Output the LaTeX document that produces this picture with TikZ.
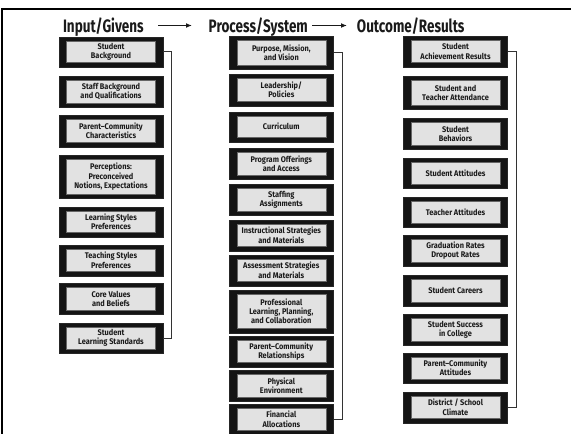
\documentclass[tikz,border=0pt]{standalone}
\usepackage{fontspec}
\newfontfamily\hdfont{Fira Sans}[FakeStretch=0.75]
\newfontfamily\bxfont{Fira Sans}[FakeStretch=0.9]
\usetikzlibrary{arrows.meta}
\definecolor{ink}{HTML}{1A1A1A}
\definecolor{boxfill}{HTML}{E2E2E2}
\tikzset{
  outerbox/.style={draw=black!85, line width=0.4pt, fill=black!92, inner sep=0pt, minimum width=104pt},
  innerbox/.style={draw=black!60, line width=0.3pt, fill=boxfill, inner sep=0pt, minimum width=89pt,
    align=center, text=ink, font=\bxfont\bfseries\fontsize{8.2}{9.3}\selectfont},
  header/.style={font=\hdfont\bfseries\fontsize{18}{20}\selectfont, text=ink, anchor=base, inner sep=0pt},
  hdarrow/.style={draw=ink, line width=1.2pt, -{Latex[length=6pt,width=5pt]}},
  conn/.style={draw=black!80, line width=0.8pt},
  frameline/.style={draw=black, line width=2.2pt}
}
\newcommand\bx[5]{%
  \node[outerbox, minimum height={(#4-#3)*1pt}] (#1) at (#2,{(#3+#4)/2}) {};
  \node[innerbox, minimum height={(#4-#3-8.5)*1pt}] (#1i) at (#1.center) {#5};
}
\begin{document}
\begin{tikzpicture}[x=1pt,y=-1pt]
\useasboundingbox (0,0) rectangle (571,434);
% frame (top and left edges)
\coordinate (fa) at (2,9);
\coordinate (fb) at (571,9);
\coordinate (fc) at (2,434);
\draw[frameline] (fb) -- (fa) -- (fc);
% headers
\node[header] (h1) at (103.3,32) {Input/Givens};
\node[header] (h2) at (258.3,32) {Process/System};
\node[header] (h3) at (410.7,32) {Outcome/Results};
\coordinate (a1s) at (158,25.5);
\coordinate (a1e) at (192,25.5);
\coordinate (a2s) at (312,25.5);
\coordinate (a2e) at (347,25.5);
\draw[hdarrow] (a1s) -- (a1e);
\draw[hdarrow] (a2s) -- (a2e);
% column 1
\bx{a1}{111}{36.7}{66.7}{Student\\Background}
\bx{a2}{111}{75.7}{107.3}{Staff Background\\and Qualifications}
\bx{a3}{111}{115.3}{146.7}{Parent–Community\\Characteristics}
\bx{a4}{111}{155.3}{198.3}{Perceptions:\\Preconceived\\Notions, Expectations}
\bx{a5}{111}{206.7}{236.7}{Learning Styles\\Preferences}
\bx{a6}{111}{245}{275.7}{Teaching Styles\\Preferences}
\bx{a7}{111}{283.3}{314.3}{Core Values\\and Beliefs}
\bx{a8}{111}{322.7}{353.3}{Student\\Learning Standards}
% column 2
\bx{b1}{281.3}{36}{69.3}{Purpose, Mission,\\and Vision}
\bx{b2}{281.3}{74.3}{105.7}{Leadership/\\Policies}
\bx{b3}{281.3}{111.7}{141.7}{Curriculum}
\bx{b4}{281.3}{148.3}{179}{Program Offerings\\and Access}
\bx{b5}{281.3}{184}{215}{Staffing\\Assignments}
\bx{b6}{281.3}{220}{250.7}{Instructional Strategies\\and Materials}
\bx{b7}{281.3}{255}{285.7}{Assessment Strategies\\and Materials}
\bx{b8}{281.3}{290}{332.7}{Professional\\Learning, Planning,\\and Collaboration}
\bx{b9}{281.3}{336}{366.7}{Parent–Community\\Relationships}
\bx{b10}{281.3}{370}{401}{Physical\\Environment}
\bx{b11}{281.3}{404.3}{434}{Financial\\Allocations}
% column 3
\bx{c1}{455.5}{36}{66.7}{Student\\Achievement Results}
\bx{c2}{455.5}{76}{109.3}{Student and\\Teacher Attendance}
\bx{c3}{455.5}{118.3}{149}{Student\\Behaviors}
\bx{c4}{455.5}{157.7}{188.3}{Student Attitudes}
\bx{c5}{455.5}{196.7}{227.3}{Teacher Attitudes}
\bx{c6}{455.5}{235}{266}{Graduation Rates\\Dropout Rates}
\bx{c7}{455.5}{275}{306}{Student Careers}
\bx{c8}{455.5}{314}{345}{Student Success\\in College}
\bx{c9}{455.5}{352.7}{383.3}{Parent–Community\\Attitudes}
\bx{c10}{455.5}{391.7}{422.7}{District / School\\Climate}
% connectors
\draw[conn] (a1.east) -- ++(8,0) |- (a8.east);
\draw[conn] (b1.east) -- ++(9,0) |- (b11.east);
\draw[conn] (c1.east) -- ++(8.5,0) |- (c10.east);
\end{tikzpicture}
\end{document}
